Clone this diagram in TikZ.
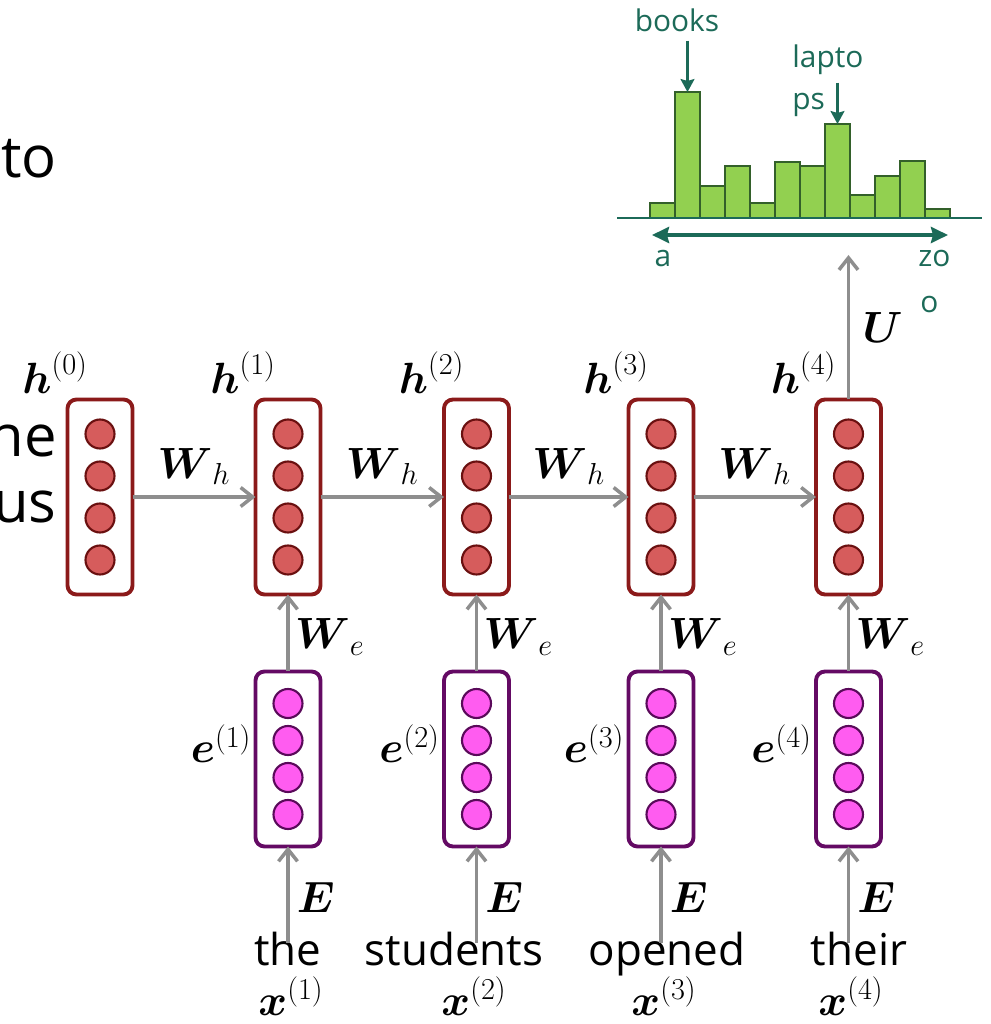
\documentclass[tikz,border=0pt]{standalone}
\usepackage{amsmath}
\usepackage{fontspec}
\setmainfont{Open Sans}
\usetikzlibrary{arrows.meta}

\definecolor{hidred}{HTML}{8B1A1A}
\definecolor{hiddark}{HTML}{6A1010}
\definecolor{hidfill}{HTML}{D65C5C}
\definecolor{embpurple}{HTML}{640A64}
\definecolor{embdark}{HTML}{5A0A5A}
\definecolor{embfill}{HTML}{FF5CF0}
\definecolor{flowgray}{HTML}{8E8E8E}
\definecolor{barfill}{HTML}{92D050}
\definecolor{barline}{HTML}{33602A}
\definecolor{disttext}{HTML}{1C6A58}

\begin{document}
\begin{tikzpicture}[
  hbox/.style={draw=hidred, line width=2.2pt, rounded corners=0.18cm, fill=white, minimum width=1.3cm, minimum height=3.9cm, outer sep=0pt},
  ebox/.style={draw=embpurple, line width=2.2pt, rounded corners=0.18cm, fill=white, minimum width=1.3cm, minimum height=3.5cm, outer sep=0pt},
  hdot/.style={draw=hiddark, fill=hidfill, line width=1.2pt},
  edot/.style={draw=embdark, fill=embfill, line width=1.2pt},
  flow/.style={draw=flowgray, line width=2pt, -{Straight Barb[length=2.4mm,width=3.8mm]}},
  lbl/.style={font=\fontsize{24}{28}\selectfont, inner sep=1pt},
  word/.style={font=\fontsize{25}{30}\selectfont, anchor=base, inner sep=0pt},
  big/.style={font=\fontsize{33}{40}\selectfont, anchor=base east, inner sep=0pt},
  bar/.style={draw=barline, fill=barfill, line width=1.1pt},
  dist/.style={font=\fontsize{17}{20}\selectfont, text=disttext, inner sep=0pt},
  pick/.style={draw=disttext, line width=1.2pt, -{Stealth[length=2.6mm,width=2.8mm,inset=0.4mm]}}
]
\useasboundingbox (0,0) rectangle (19.82,20.48);
\clip (0,0) rectangle (19.82,20.48);

\node[big] (t1) at (1.14,16.92) {to};
\node[big] (t2) at (1.14,11.34) {he};
\node[big] (t3) at (1.14,10.02) {us};

% hidden states
\node[hbox] (h0) at (2.00,10.54) {};
\node[hbox] (h1) at (5.76,10.54) {};
\node[hbox] (h2) at (9.53,10.54) {};
\node[hbox] (h3) at (13.22,10.54) {};
\node[hbox] (h4) at (16.97,10.54) {};

\draw[hdot] (2.00,11.80) circle (0.29);
\draw[hdot] (2.00,10.96) circle (0.29);
\draw[hdot] (2.00,10.12) circle (0.29);
\draw[hdot] (2.00,9.28) circle (0.29);
\draw[hdot] (5.76,11.80) circle (0.29);
\draw[hdot] (5.76,10.96) circle (0.29);
\draw[hdot] (5.76,10.12) circle (0.29);
\draw[hdot] (5.76,9.28) circle (0.29);
\draw[hdot] (9.53,11.80) circle (0.29);
\draw[hdot] (9.53,10.96) circle (0.29);
\draw[hdot] (9.53,10.12) circle (0.29);
\draw[hdot] (9.53,9.28) circle (0.29);
\draw[hdot] (13.22,11.80) circle (0.29);
\draw[hdot] (13.22,10.96) circle (0.29);
\draw[hdot] (13.22,10.12) circle (0.29);
\draw[hdot] (13.22,9.28) circle (0.29);
\draw[hdot] (16.97,11.80) circle (0.29);
\draw[hdot] (16.97,10.96) circle (0.29);
\draw[hdot] (16.97,10.12) circle (0.29);
\draw[hdot] (16.97,9.28) circle (0.29);

\node[lbl, anchor=base east] (lh0) at ([xshift=-0.2cm,yshift=0.12cm]h0.north) {$\boldsymbol{h}^{(0)}$};
\node[lbl, anchor=base east] (lh1) at ([xshift=-0.2cm,yshift=0.12cm]h1.north) {$\boldsymbol{h}^{(1)}$};
\node[lbl, anchor=base east] (lh2) at ([xshift=-0.2cm,yshift=0.12cm]h2.north) {$\boldsymbol{h}^{(2)}$};
\node[lbl, anchor=base east] (lh3) at ([xshift=-0.2cm,yshift=0.12cm]h3.north) {$\boldsymbol{h}^{(3)}$};
\node[lbl, anchor=base east] (lh4) at ([xshift=-0.2cm,yshift=0.12cm]h4.north) {$\boldsymbol{h}^{(4)}$};

% embeddings
\node[ebox] (e1) at (5.76,5.30) {};
\node[ebox] (e2) at (9.53,5.30) {};
\node[ebox] (e3) at (13.22,5.30) {};
\node[ebox] (e4) at (16.97,5.30) {};

\draw[edot] (5.76,6.41) circle (0.29);
\draw[edot] (5.76,5.67) circle (0.29);
\draw[edot] (5.76,4.93) circle (0.29);
\draw[edot] (5.76,4.19) circle (0.29);
\draw[edot] (9.53,6.41) circle (0.29);
\draw[edot] (9.53,5.67) circle (0.29);
\draw[edot] (9.53,4.93) circle (0.29);
\draw[edot] (9.53,4.19) circle (0.29);
\draw[edot] (13.22,6.41) circle (0.29);
\draw[edot] (13.22,5.67) circle (0.29);
\draw[edot] (13.22,4.93) circle (0.29);
\draw[edot] (13.22,4.19) circle (0.29);
\draw[edot] (16.97,6.41) circle (0.29);
\draw[edot] (16.97,5.67) circle (0.29);
\draw[edot] (16.97,4.93) circle (0.29);
\draw[edot] (16.97,4.19) circle (0.29);

\node[lbl, anchor=base east] (le1) at ([xshift=-0.04cm,yshift=-0.08cm]e1.west) {$\boldsymbol{e}^{(1)}$};
\node[lbl, anchor=base east] (le2) at ([xshift=-0.04cm,yshift=-0.08cm]e2.west) {$\boldsymbol{e}^{(2)}$};
\node[lbl, anchor=base east] (le3) at ([xshift=-0.04cm,yshift=-0.08cm]e3.west) {$\boldsymbol{e}^{(3)}$};
\node[lbl, anchor=base east] (le4) at ([xshift=-0.04cm,yshift=-0.08cm]e4.west) {$\boldsymbol{e}^{(4)}$};

% words
\node[word] (w1) at (5.76,1.18) {the};
\node[word] (w2) at (9.08,1.18) {students};
\node[word] (w3) at (13.34,1.18) {opened};
\node[word] (w4) at (17.18,1.18) {their};
\node[lbl, anchor=base, inner sep=0pt] (x1) at (5.82,0.17) {$\boldsymbol{x}^{(1)}$};
\node[lbl, anchor=base, inner sep=0pt] (x2) at (9.48,0.17) {$\boldsymbol{x}^{(2)}$};
\node[lbl, anchor=base, inner sep=0pt] (x3) at (13.28,0.17) {$\boldsymbol{x}^{(3)}$};
\node[lbl, anchor=base, inner sep=0pt] (x4) at (17.02,0.17) {$\boldsymbol{x}^{(4)}$};

\draw[flow] (h0.east) -- (h1.west) node[lbl, midway, above=5pt] {$\boldsymbol{W}_h$};
\draw[flow] (h1.east) -- (h2.west) node[lbl, midway, above=5pt] {$\boldsymbol{W}_h$};
\draw[flow] (h2.east) -- (h3.west) node[lbl, midway, above=5pt] {$\boldsymbol{W}_h$};
\draw[flow] (h3.east) -- (h4.west) node[lbl, midway, above=5pt] {$\boldsymbol{W}_h$};

\draw[flow] (e1.north) -- (h1.south) node[lbl, pos=0.45, right=2pt] {$\boldsymbol{W}_e$};
\draw[flow] (e2.north) -- (h2.south) node[lbl, pos=0.45, right=2pt] {$\boldsymbol{W}_e$};
\draw[flow] (e3.north) -- (h3.south) node[lbl, pos=0.45, right=2pt] {$\boldsymbol{W}_e$};
\draw[flow] (e4.north) -- (h4.south) node[lbl, pos=0.45, right=2pt] {$\boldsymbol{W}_e$};

\draw[flow, shorten <=-0.23cm] (w1.north -| e1.south) -- (e1.south) node[lbl, pos=0.4, right=3pt] {$\boldsymbol{E}$};
\draw[flow, shorten <=-0.23cm] (w2.north -| e2.south) -- (e2.south) node[lbl, pos=0.4, right=3pt] {$\boldsymbol{E}$};
\draw[flow, shorten <=-0.23cm] (w3.north -| e3.south) -- (e3.south) node[lbl, pos=0.4, right=3pt] {$\boldsymbol{E}$};
\draw[flow, shorten <=-0.23cm] (w4.north -| e4.south) -- (e4.south) node[lbl, pos=0.4, right=3pt] {$\boldsymbol{E}$};

\coordinate (out) at (16.97,15.38);
\draw[flow] (h4.north) -- (out) node[lbl, midway, right=6pt] {$\boldsymbol{U}$};

% output distribution
\draw[bar] (13.0,16.12) rectangle (13.5,16.42);
\draw[bar] (13.5,16.12) rectangle (14.0,18.64);
\draw[bar] (14.0,16.12) rectangle (14.5,16.76);
\draw[bar] (14.5,16.12) rectangle (15.0,17.16);
\draw[bar] (15.0,16.12) rectangle (15.5,16.42);
\draw[bar] (15.5,16.12) rectangle (16.0,17.24);
\draw[bar] (16.0,16.12) rectangle (16.5,17.16);
\draw[bar] (16.5,16.12) rectangle (17.0,18.00);
\draw[bar] (17.0,16.12) rectangle (17.5,16.58);
\draw[bar] (17.5,16.12) rectangle (18.0,16.96);
\draw[bar] (18.0,16.12) rectangle (18.5,17.26);
\draw[bar] (18.5,16.12) rectangle (19.0,16.30);
\draw[disttext, line width=1.7pt] (12.34,16.12) -- (19.64,16.12);

\coordinate (ax0) at (13.04,15.78);
\coordinate (ax1) at (18.96,15.78);
\draw[disttext, line width=2.2pt, {Stealth[length=3.4mm,width=3.2mm,inset=0.4mm]}-{Stealth[length=3.4mm,width=3.2mm,inset=0.4mm]}] (ax0) -- (ax1);

\node[dist, anchor=base] (first) at (13.26,15.14) {a};
\node[dist, anchor=base west] (last) at (18.36,15.14) {zo};
\node[dist, anchor=base west] (last2) at (18.40,14.22) {o};

\node[dist, anchor=base] (books) at (13.54,19.84) {books};
\node[dist, anchor=base west] (lap) at (15.84,19.12) {lapto};
\node[dist, anchor=base west] (lap2) at (15.84,18.28) {ps};

\coordinate (peak1) at (13.75,18.64);
\coordinate (peak2) at (16.75,18.00);
\draw[pick, shorten <=0.16cm] (books.south -| peak1) -- (peak1);
\draw[pick, shorten <=0.14cm] (lap.south -| peak2) -- (peak2);
\end{tikzpicture}
\end{document}
